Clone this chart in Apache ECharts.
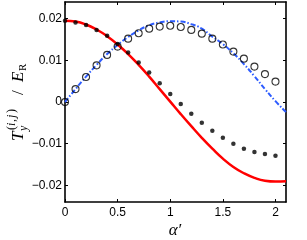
<!DOCTYPE html>
<html>
<head>
<meta charset="utf-8">
<script src="https://cdn.jsdelivr.net/npm/echarts@6/dist/echarts.min.js"></script>
<style>
html,body{margin:0;padding:0;background:#fff;}
#c{width:307px;height:240px;}
</style>
</head>
<body>
<div id="c"></div>
<script>
// alpha' sample positions
const alphaLine = [0,0.1,0.2,0.3,0.4,0.5,0.6,0.7,0.8,0.9,1.0,1.1,1.2,1.3,1.4,1.5,1.6,1.7,1.8,1.9,2.0,2.1];
const alphaPts  = [0,0.1,0.2,0.3,0.4,0.5,0.6,0.7,0.8,0.9,1.0,1.1,1.2,1.3,1.4,1.5,1.6,1.7,1.8,1.9,2.0];
// red solid curve
const redCurve = [0.0195,0.0193,0.0186,0.0174,0.0158,0.0138,0.0115,0.0089,0.0061,0.0031,0.0001,
                  -0.0029,-0.0058,-0.0086,-0.0112,-0.0136,-0.0156,-0.0171,-0.0182,-0.0189,-0.0191,-0.0190];
// blue dash-dot curve
const blueCurve = [0,0.0031,0.0061,0.0089,0.0115,0.0137,0.0156,0.0172,0.0184,0.0191,0.0194,
                   0.0193,0.0187,0.0176,0.0157,0.0139,0.0117,0.0091,0.0062,0.0031,0.0002,-0.0024];
// filled black dots
const dotVals = [0.0195,0.0191,0.0185,0.0173,0.0159,0.0139,0.0119,0.0095,0.0071,0.0045,0.0019,
                 -0.0005,-0.0028,-0.0050,-0.0069,-0.0086,-0.0100,-0.0112,-0.0120,-0.0125,-0.0129];
// open circles
const circleVals = [0,0.0031,0.0060,0.0088,0.0113,0.0133,0.0152,0.0165,0.0176,0.0181,0.0183,
                    0.0180,0.0173,0.0164,0.0152,0.0138,0.0121,0.0104,0.0085,0.0067,0.0049];
// tick labels
const xTicks = [0,0.5,1,1.5,2];
const yTicks = [-0.02,-0.01,0,0.01,0.02];

const zip = (xs, ys) => xs.map((x, i) => [x, ys[i]]);
const fmtY = v => (v < 0 ? '\u2212' + String(Math.abs(v)) : String(v));

const labelFont = {fontFamily: 'Liberation Sans, Arial, sans-serif', fontSize: 12, color: '#000'};
const axisLine = {show: true, onZero: false, lineStyle: {color: '#000', width: 1.6}};
const tick = vals => ({show: true, inside: true, length: 3, customValues: vals, lineStyle: {color: '#000', width: 1}});

const SERIF = '"Liberation Serif", serif';
const txt = (s, x, y, fs, italic) => ({
  type: 'text', x: x, y: y,
  style: {text: s, font: (italic ? 'italic ' : '') + fs + 'px ' + SERIF, fill: '#000', verticalAlign: 'top', align: 'left'}
});

const chart = echarts.init(document.getElementById('c'), null, {renderer: 'canvas'});
chart.setOption({
  animation: false,
  backgroundColor: '#fff',
  grid: {left: 65, right: 21, top: 2, bottom: 38},
  xAxis: [
    {type: 'value', min: 0, max: 2.1, position: 'bottom',
     axisLine: axisLine, splitLine: {show: false}, axisTick: tick(xTicks),
     axisLabel: Object.assign({customValues: xTicks, margin: 5, formatter: v => String(v)}, labelFont)},
    {type: 'value', min: 0, max: 2.1, position: 'top',
     axisLine: axisLine, splitLine: {show: false}, axisTick: tick(xTicks),
     axisLabel: {show: false}}
  ],
  yAxis: [
    {type: 'value', min: -0.024, max: 0.024, position: 'left',
     axisLine: axisLine, splitLine: {show: false}, axisTick: tick(yTicks),
     axisLabel: Object.assign({customValues: yTicks, margin: 3, formatter: fmtY}, labelFont)},
    {type: 'value', min: -0.024, max: 0.024, position: 'right',
     axisLine: axisLine, splitLine: {show: false}, axisTick: tick(yTicks),
     axisLabel: {show: false}}
  ],
  series: [
    {type: 'line', data: zip(alphaLine, blueCurve), smooth: true, showSymbol: false, z: 2,
     lineStyle: {color: '#2d5cff', width: 2, type: [5, 2, 1.5, 2]}},
    {type: 'line', data: zip(alphaLine, redCurve), smooth: true, showSymbol: false, z: 3,
     lineStyle: {color: '#ff0000', width: 2.5}},
    {type: 'scatter', data: zip(alphaPts, dotVals), symbol: 'circle', symbolSize: 4.5, z: 4,
     itemStyle: {color: '#000'}},
    {type: 'scatter', data: zip(alphaPts, circleVals), symbol: 'circle', symbolSize: 7, z: 5,
     itemStyle: {color: 'rgba(0,0,0,0)', borderColor: '#000', borderWidth: 1.1}}
  ],
  graphic: [
    {type: 'group', x: 25, y: 141, rotation: Math.PI / 2, children: [
      txt('T', 0, -15, 17, true),
      txt('y', 10, -7, 12, true),
      txt('(', 11, -19, 12, false),
      txt('i', 15, -19, 12, true),
      txt(',', 19, -19, 12, false),
      txt('j', 23, -19, 12, true),
      txt(')', 28, -19, 12, false),
      txt('/', 46, -15, 17, false),
      txt('E', 59, -15, 17, true),
      txt('R', 70, -7, 11, false)
    ]},
    {type: 'text', x: 175, y: 222,
     style: {text: 'α′', font: 'italic 17px ' + SERIF, fill: '#000', align: 'center', verticalAlign: 'top'}}
  ]
});
</script>
</body>
</html>
